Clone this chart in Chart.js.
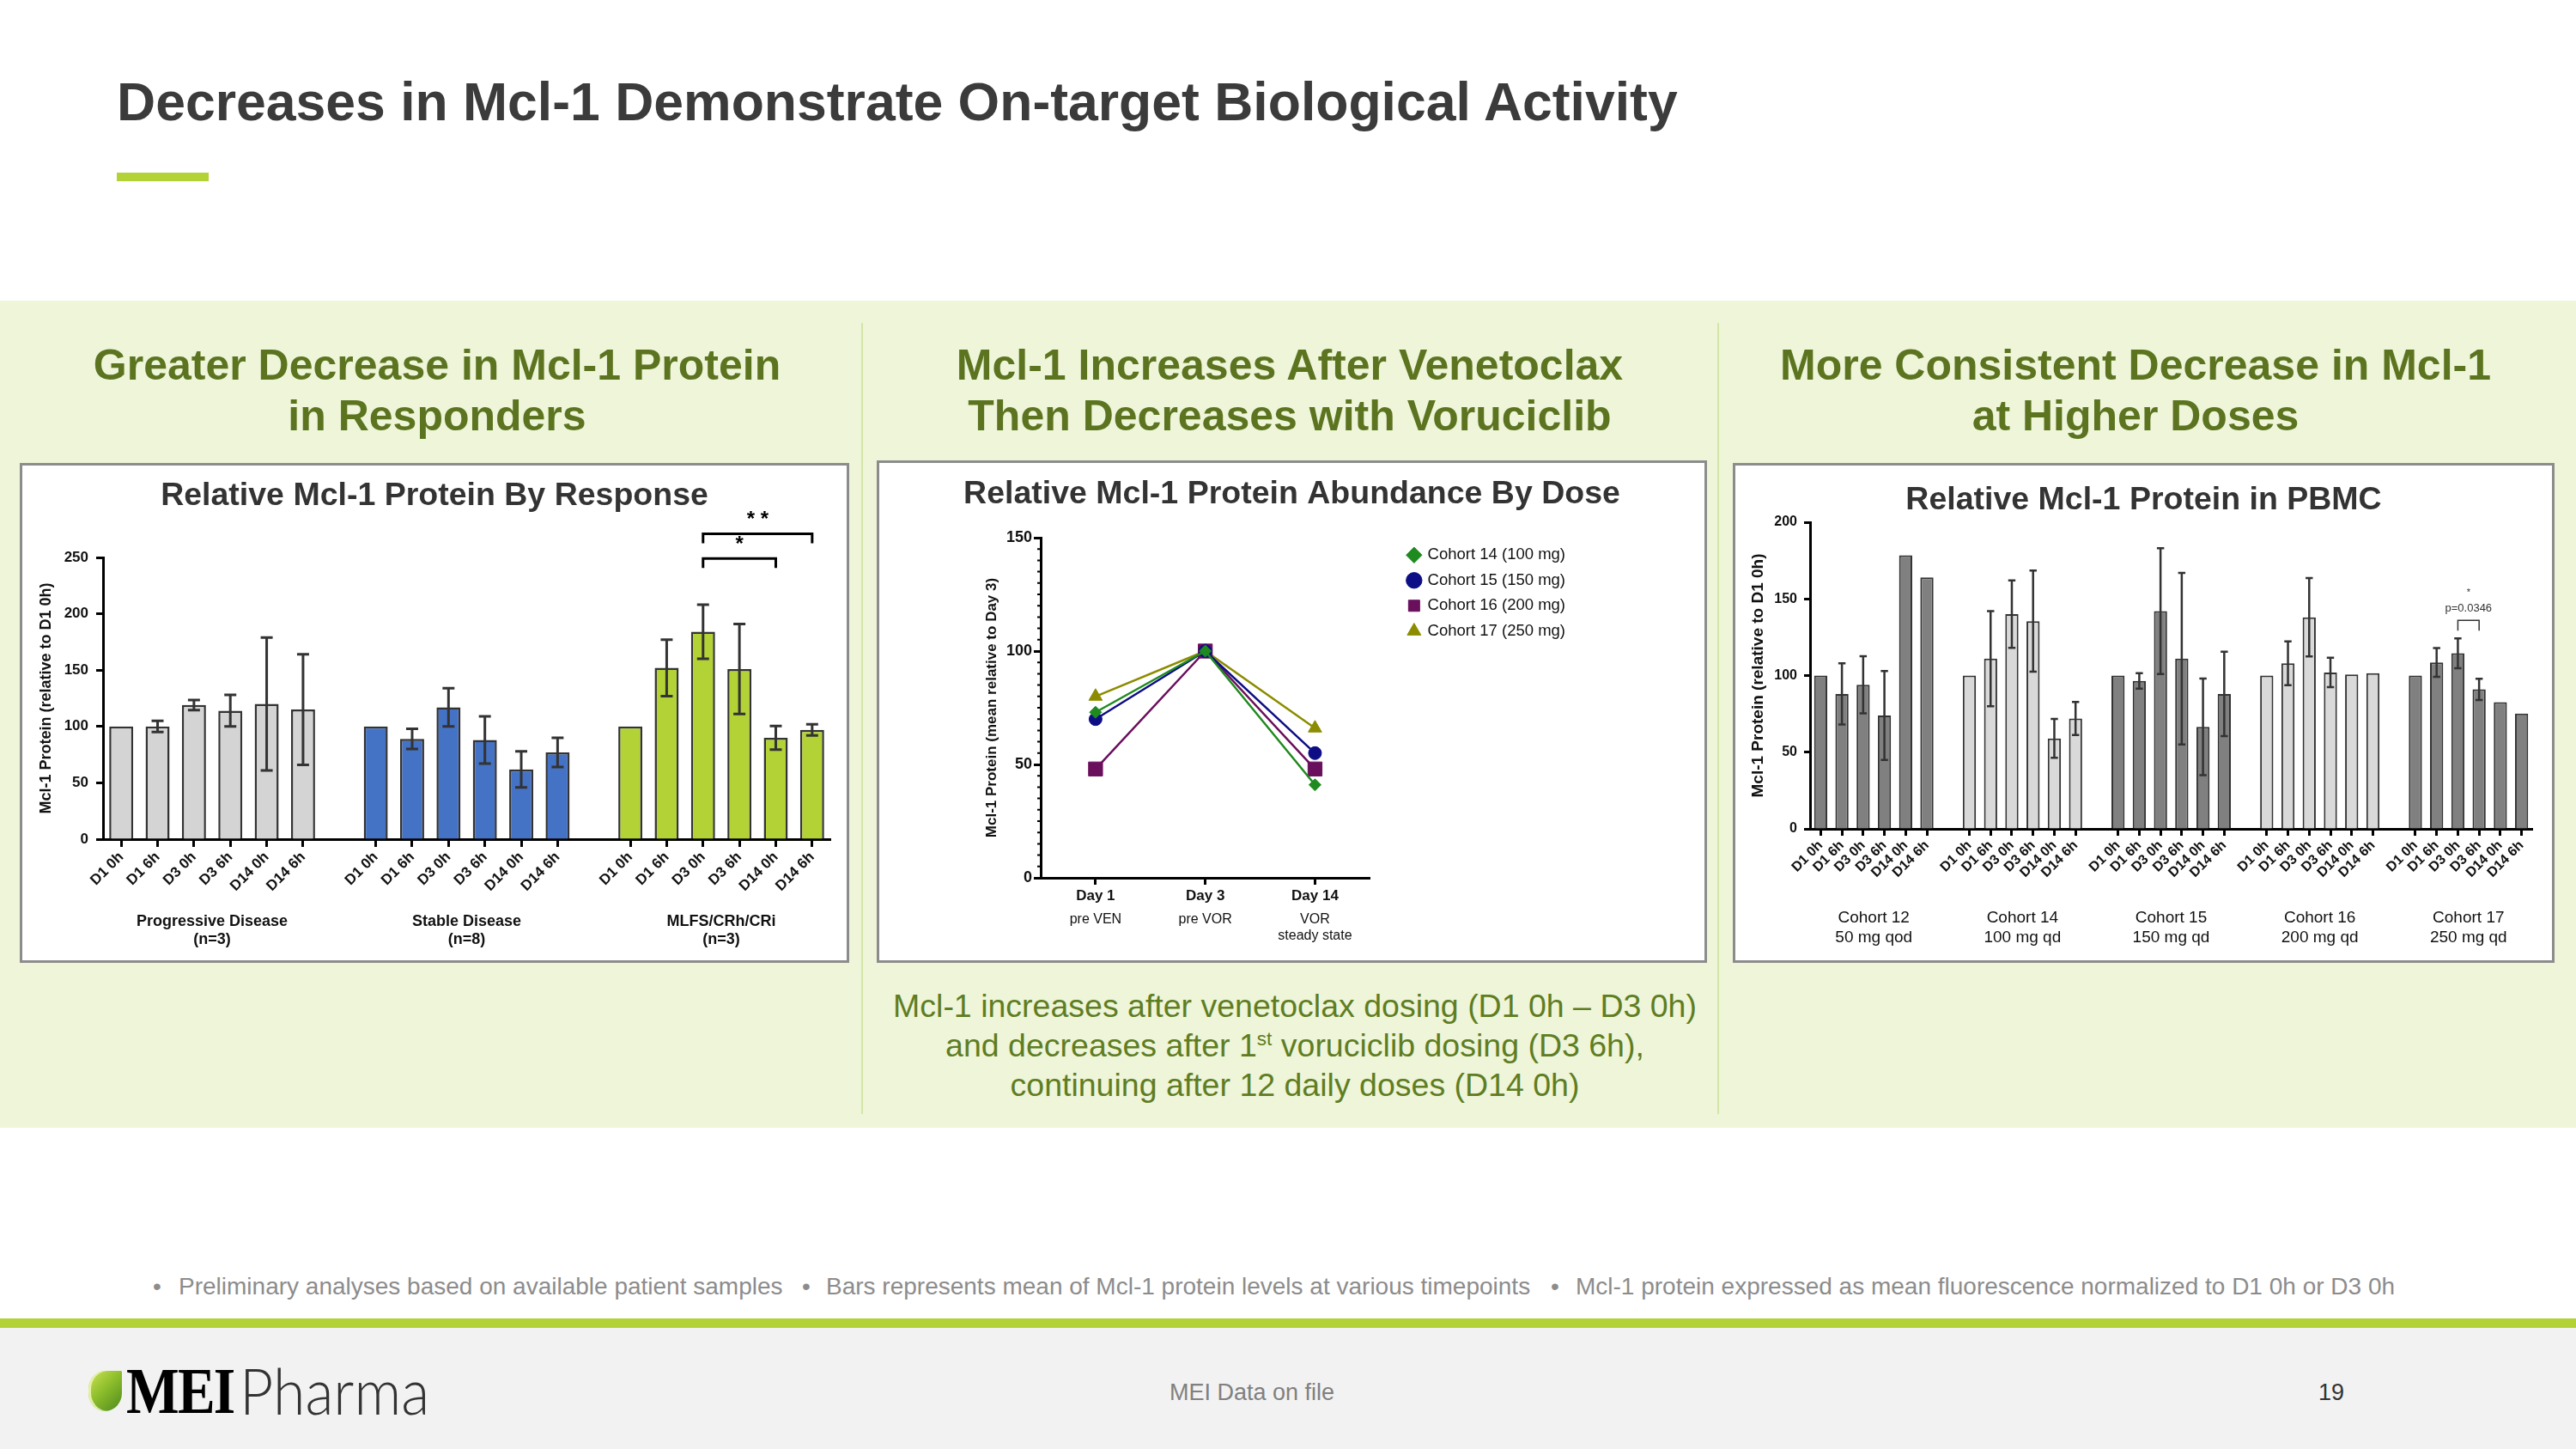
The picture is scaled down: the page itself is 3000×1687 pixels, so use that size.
<!DOCTYPE html>
<html>
<head>
<meta charset="utf-8">
<script src="https://cdn.jsdelivr.net/npm/chart.js@4.4.1/dist/chart.umd.min.js"></script>
<style>
  body { margin: 0; background: #fff; }
  #slide { position: relative; width: 3000px; height: 1687px; overflow: hidden; background: #fff;
           font-family: Arial, "Liberation Sans", Helvetica, sans-serif; }
  .abs { position: absolute; white-space: nowrap; }
  #title { left: 136px; top: 87px; font-size: 62.5px; line-height: 62px; font-weight: bold; color: #3b3b3b; }
  #accent { left: 136px; top: 201px; width: 107px; height: 10px; background: #b2d235; }
  #panel { left: 0; top: 350px; width: 3000px; height: 963px; background: #eef5d9; }
  .divider { top: 376px; width: 2px; height: 921px; background: #d3e6a6; }
  .heading { width: 1000px; text-align: center; font-size: 50px; line-height: 59px; font-weight: bold; color: #5c7420; top: 396px; }
  .box { border: 3px solid #8c8c8c; background: #fff; box-sizing: border-box; }
  .box canvas { position: absolute; left: 0; top: 0; }
  #caption { left: 1008px; top: 1148px; width: 1000px; text-align: center; font-size: 37.5px; line-height: 46px; color: #5f7d22; }
  #caption sup { font-size: 60%; line-height: 0; }
  .note { top: 1478px; font-size: 28px; line-height: 40px; color: #8c8c8c; }
  #rule { left: 0; top: 1535px; width: 3000px; height: 11px; background: #b2d235; }
  #footer { left: 0; top: 1546px; width: 3000px; height: 141px; background: #f2f2f2; }
  #leaf { left: 103px; top: 1596px; width: 39px; height: 47px; border-radius: 55% 4% 55% 55% / 50% 4% 50% 50%;
          background: linear-gradient(135deg, #cfe35a 0%, #8fbf2c 45%, #4d8a1e 100%); box-shadow: inset 3px 0 0 #e4f0a8; }
  #mei { left: 147px; top: 1581px; font-family: "Liberation Serif", "DejaVu Serif", serif; font-weight: bold; font-size: 76px; line-height: 76px;
         color: #000; transform: scaleX(0.86); transform-origin: left; letter-spacing: -2px; }
  #pharma { left: 279px; top: 1582px; font-family: "Lato Light", Lato, "Open Sans", sans-serif; font-weight: 300; font-size: 74px; line-height: 74px;
            color: #333; transform: scaleX(0.92); transform-origin: left; }
  #source { left: 1258px; width: 400px; text-align: center; top: 1603px; font-size: 27px; line-height: 36px; color: #808080; }
  #page { left: 2665px; width: 100px; text-align: center; top: 1603px; font-size: 27px; line-height: 36px; color: #333; }
</style>
</head>
<body>
<div id="slide">
  <div id="title" class="abs">Decreases in Mcl-1 Demonstrate On-target Biological Activity</div>
  <div id="accent" class="abs"></div>

  <div id="panel" class="abs"></div>
  <div class="abs divider" style="left:1003px"></div>
  <div class="abs divider" style="left:2000px"></div>

  <div class="abs heading" style="left:9px">Greater Decrease in Mcl-1 Protein<br>in Responders</div>
  <div class="abs heading" style="left:1002px">Mcl-1 Increases After Venetoclax<br>Then Decreases with Voruciclib</div>
  <div class="abs heading" style="left:1987px">More Consistent Decrease in Mcl-1<br>at Higher Doses</div>

  <div class="abs box" style="left:23px; top:539px; width:966px; height:582px;">
    <canvas id="responseChart" width="960" height="576"></canvas>
  </div>
  <div class="abs box" style="left:1021px; top:536px; width:967px; height:585px;">
    <canvas id="doseChart" width="961" height="579"></canvas>
  </div>
  <div class="abs box" style="left:2018px; top:539px; width:957px; height:582px;">
    <canvas id="pbmcChart" width="951" height="576"></canvas>
  </div>

  <div id="caption" class="abs">Mcl-1 increases after venetoclax dosing (D1 0h – D3 0h)<br>and decreases after 1<sup>st</sup> voruciclib dosing (D3 6h),<br>continuing after 12 daily doses (D14 0h)</div>

  <div class="abs note" style="left:178px">•</div>
  <div class="abs note" style="left:208px">Preliminary analyses based on available patient samples</div>
  <div class="abs note" style="left:934px">•</div>
  <div class="abs note" style="left:962px">Bars represents mean of Mcl-1 protein levels at various timepoints</div>
  <div class="abs note" style="left:1806px">•</div>
  <div class="abs note" style="left:1835px">Mcl-1 protein expressed as mean fluorescence normalized to D1 0h or D3 0h</div>

  <div id="rule" class="abs"></div>
  <div id="footer" class="abs"></div>
  <div id="leaf" class="abs"></div>
  <div id="mei" class="abs">MEI</div>
  <div id="pharma" class="abs">Pharma</div>
  <div id="source" class="abs">MEI Data on file</div>
  <div id="page" class="abs">19</div>
</div>

<script>
const FONT = 'Arial, "Liberation Sans", Helvetica, sans-serif';

// ---- Relative Mcl-1 Protein By Response ----
const timepoints = ['D1 0h', 'D1 6h', 'D3 0h', 'D3 6h', 'D14 0h', 'D14 6h'];
const responseGroups = ['Progressive Disease', 'Stable Disease', 'MLFS/CRh/CRi'];
const responseCounts = ['(n=3)', '(n=8)', '(n=3)'];
const progressiveMean = [100, 100, 119, 114, 120, 115];
const progressiveSem = [0, 5, 4.5, 14, 59, 49];
const stableMean = [100, 89, 117, 88, 62, 77];
const stableSem = [0, 9, 17, 21, 16, 13];
const responderMean = [100, 152, 184, 151, 90, 97];
const responderSem = [0, 25, 24, 40, 10.5, 5];
const responseColors = ['#d4d4d4', '#4472c4', '#b2d235'];
const responseBrackets = [
    { group: 2, from: 'D3 0h', to: 'D14 0h', level: 249, text: ['*'] },
    { group: 2, from: 'D3 0h', to: 'D14 6h', level: 271, text: ['* *'] }
];

// ---- Relative Mcl-1 Protein Abundance By Dose ----
const doseDays = ['Day 1', 'Day 3', 'Day 14'];
const doseDayNotes = [['pre VEN'], ['pre VOR'], ['VOR', 'steady state']];
const doseCohorts = ['Cohort 14 (100 mg)', 'Cohort 15 (150 mg)', 'Cohort 16 (200 mg)', 'Cohort 17 (250 mg)'];
const cohort14Dose = [73, 100, 41];
const cohort15Dose = [70, 100, 55];
const cohort16Dose = [48, 100, 48];
const cohort17Dose = [80, 100, 66];
const doseColors = ['#1f8a1f', '#0d0d85', '#6a0f5c', '#8c8c00'];
const doseMarkers = ['rectRot', 'circle', 'rect', 'triangle'];

// ---- Relative Mcl-1 Protein in PBMC ----
const pbmcCohorts = ['Cohort 12', 'Cohort 14', 'Cohort 15', 'Cohort 16', 'Cohort 17'];
const pbmcDoses = ['50 mg qod', '100 mg qd', '150 mg qd', '200 mg qd', '250 mg qd'];
const cohort12Mean = [100, 88, 94, 74, 178.5, 164];
const cohort12Sem = [0, 20, 18.6, 29, 0, 0];
const cohort14Mean = [100, 111, 140, 135.5, 59, 72];
const cohort14Sem = [0, 31, 22, 33, 12.7, 10.8];
const cohort15Mean = [100, 96.5, 142, 111, 66.5, 88];
const cohort15Sem = [0, 5, 41, 56, 31.5, 27.5];
const cohort16Mean = [100, 108, 138, 102, 100.7, 101.6];
const cohort16Sem = [0, 14.3, 25.6, 9.6, 0, 0];
const cohort17Mean = [100, 108.5, 114.5, 91, 82.6, 75.2];
const cohort17Sem = [0, 9.4, 9.7, 6.9, 0, 0];
const pbmcColors = ['#808080', '#d9d9d9', '#808080', '#d9d9d9', '#808080'];
const pbmcBrackets = [
    { group: 4, from: 'D3 0h', to: 'D3 6h', level: 136, text: ['*', 'p=0.0346'] }
];

// put groups side by side with one empty slot between them
function flatten(groups, gap) {
    var out = [];
    groups.forEach(function(g, i) {
        if (i > 0) out.push(gap);
        out.push.apply(out, g);
    });
    return out;
}

function slotOf(group, name) {
    return group * (timepoints.length + 1) + timepoints.indexOf(name);
}

// empty axis used only to reserve room on the right
function spacer(width, weight) {
    return {
        type: 'linear', position: 'right', display: true, weight: weight || 0,
        grid: { display: false }, border: { display: false }, ticks: { display: false },
        afterFit: function(s) { s.width = width; }
    };
}

const errorBarPlugin = {
    id: 'errorBars',
    afterDatasetsDraw(chart, args, opts) {
        const ctx = chart.ctx;
        const y = chart.scales.y;
        chart.data.datasets.forEach(function(ds, di) {
            if (!ds.errors) return;
            const meta = chart.getDatasetMeta(di);
            ctx.save();
            ctx.strokeStyle = opts.color;
            ctx.lineWidth = opts.width;
            meta.data.forEach(function(bar, i) {
                const v = ds.data[i], e = ds.errors[i];
                if (v == null || !e) return;
                const top = y.getPixelForValue(v + e);
                const bot = y.getPixelForValue(v - e);
                const half = bar.width * opts.cap / 2;
                ctx.beginPath();
                ctx.moveTo(bar.x, top); ctx.lineTo(bar.x, bot);
                ctx.moveTo(bar.x - half, top); ctx.lineTo(bar.x + half, top);
                ctx.moveTo(bar.x - half, bot); ctx.lineTo(bar.x + half, bot);
                ctx.stroke();
            });
            ctx.restore();
        });
    }
};

const groupLabelPlugin = {
    id: 'groupLabels',
    afterDraw(chart, args, opts) {
        const ctx = chart.ctx, x = chart.scales.x;
        ctx.save();
        ctx.font = opts.font;
        ctx.fillStyle = '#111';
        ctx.textAlign = 'center';
        ctx.textBaseline = 'middle';
        opts.lines.forEach(function(lines, gi) {
            const first = gi * (timepoints.length + 1);
            const cx = (x.getPixelForValue(first) + x.getPixelForValue(first + timepoints.length - 1)) / 2;
            lines.forEach(function(t, li) {
                ctx.fillText(t, cx, chart.chartArea.bottom + opts.offset + li * opts.lineHeight);
            });
        });
        ctx.restore();
    }
};

const bracketPlugin = {
    id: 'brackets',
    afterDraw(chart, args, opts) {
        const ctx = chart.ctx, x = chart.scales.x, y = chart.scales.y;
        ctx.save();
        ctx.strokeStyle = opts.color;
        ctx.fillStyle = opts.color;
        ctx.lineWidth = opts.width;
        ctx.textAlign = 'center';
        ctx.textBaseline = 'middle';
        opts.items.forEach(function(b) {
            const x1 = x.getPixelForValue(slotOf(b.group, b.from));
            const x2 = x.getPixelForValue(slotOf(b.group, b.to));
            const yl = y.getPixelForValue(b.level);
            ctx.beginPath();
            ctx.moveTo(x1, yl + opts.drop); ctx.lineTo(x1, yl);
            ctx.lineTo(x2, yl); ctx.lineTo(x2, yl + opts.drop);
            ctx.stroke();
            const n = b.text.length;
            b.text.forEach(function(t, i) {
                ctx.font = (i === n - 1) ? opts.font : opts.smallFont;
                ctx.fillText(t, (x1 + x2) / 2, yl - opts.gap - (n - 1 - i) * opts.lineGap);
            });
        });
        ctx.restore();
    }
};

const minorTickPlugin = {
    id: 'minorTicks',
    afterDraw(chart, args, opts) {
        const ctx = chart.ctx, y = chart.scales.y;
        ctx.save();
        ctx.strokeStyle = '#000';
        ctx.lineWidth = 2;
        ctx.beginPath();
        for (let v = y.min; v <= y.max; v += opts.step) {
            if (v % opts.major === 0) continue;
            const py = y.getPixelForValue(v);
            ctx.moveTo(y.right - opts.length, py);
            ctx.lineTo(y.right, py);
        }
        ctx.stroke();
        ctx.restore();
    }
};

const subLabelPlugin = {
    id: 'subLabels',
    afterDraw(chart, args, opts) {
        const ctx = chart.ctx, x = chart.scales.x;
        ctx.save();
        ctx.font = opts.font;
        ctx.fillStyle = '#111';
        ctx.textAlign = 'center';
        ctx.textBaseline = 'middle';
        opts.lines.forEach(function(lines, i) {
            const px = x.getPixelForValue(i);
            lines.forEach(function(t, li) {
                ctx.fillText(t, px, chart.chartArea.bottom + opts.offset + li * opts.lineHeight);
            });
        });
        ctx.restore();
    }
};

function barAxes(opts) {
    return {
        x: {
            offset: true,
            grid: {
                drawOnChartArea: false, offset: false,
                tickLength: opts.tickLength, tickWidth: 3,
                tickColor: function(c) { return c.tick && c.tick.label ? '#000' : 'rgba(0,0,0,0)'; }
            },
            border: { color: '#000', width: 3 },
            ticks: { autoSkip: false, minRotation: 45, maxRotation: 45, padding: 2, color: '#111',
                     font: { family: FONT, size: opts.xFont, weight: 'bold' } },
            afterFit: function(s) { s.height = opts.xHeight; }
        },
        y: {
            min: 0, max: opts.max,
            grid: { drawOnChartArea: false, tickLength: opts.yTick, tickWidth: 3, tickColor: '#000' },
            border: { color: '#000', width: 3 },
            ticks: { stepSize: 50, padding: opts.yPad, color: '#111', font: { family: FONT, size: opts.yFont, weight: 'bold' } },
            title: { display: true, text: 'Mcl-1 Protein (relative to D1 0h)', color: '#111',
                     font: { family: FONT, size: opts.titleFont, weight: 'bold' }, padding: { top: opts.titlePad, bottom: 0 } },
            afterFit: function(s) { s.width = opts.yWidth; }
        },
        pad: spacer(opts.rightGap)
    };
}

// chart 1
new Chart(document.getElementById('responseChart'), {
    type: 'bar',
    data: {
        labels: flatten(responseGroups.map(function() { return timepoints; }), ''),
        datasets: [{
            data: flatten([progressiveMean, stableMean, responderMean], null),
            errors: flatten([progressiveSem, stableSem, responderSem], 0),
            backgroundColor: flatten(responseColors.map(function(c) { return timepoints.map(function() { return c; }); }), 'rgba(0,0,0,0)'),
            borderColor: '#333',
            borderWidth: 2.5,
            barPercentage: 0.66,
            categoryPercentage: 1
        }]
    },
    options: {
        responsive: false,
        animation: false,
        plugins: {
            legend: { display: false },
            tooltip: { enabled: false },
            title: { display: true, text: 'Relative Mcl-1 Protein By Response', color: '#333',
                     font: { family: FONT, size: 37.5, weight: 'bold' }, padding: { top: 13, bottom: 49 } },
            errorBars: { color: '#333', width: 3, cap: 0.5 },
            groupLabels: { lines: responseGroups.map(function(g, i) { return [g, responseCounts[i]]; }),
                           font: 'bold 18px ' + FONT, offset: 96, lineHeight: 21 },
            brackets: { items: responseBrackets, color: '#000', width: 3, drop: 11, gap: 16, lineGap: 20,
                        font: 'bold 24px ' + FONT, smallFont: 'bold 24px ' + FONT }
        },
        scales: barAxes({ tickLength: 9, xFont: 17, xHeight: 141, max: 250, yTick: 8, yPad: 9, yFont: 17,
                          titleFont: 18, titlePad: 17, yWidth: 94, rightGap: 19 })
    },
    plugins: [errorBarPlugin, groupLabelPlugin, bracketPlugin]
});

// chart 2
const doseSeries = [cohort14Dose, cohort15Dose, cohort16Dose, cohort17Dose];
const doseRadius = [7, 7.5, 11.5, 9];
new Chart(document.getElementById('doseChart'), {
    type: 'line',
    data: {
        labels: doseDays,
        datasets: doseSeries.map(function(s, i) {
            return {
                label: doseCohorts[i],
                data: s,
                borderColor: doseColors[i],
                backgroundColor: doseColors[i],
                pointBackgroundColor: doseColors[i],
                pointBorderColor: doseColors[i],
                pointStyle: doseMarkers[i],
                pointRadius: doseRadius[i],
                pointBorderWidth: 1,
                borderWidth: 2.5,
                tension: 0
            };
        })
    },
    options: {
        responsive: false,
        animation: false,
        plugins: {
            tooltip: { enabled: false },
            title: { display: true, text: 'Relative Mcl-1 Protein Abundance By Dose', color: '#333',
                     font: { family: FONT, size: 37.5, weight: 'bold' }, padding: { top: 14, bottom: 28 } },
            legend: {
                position: 'right', align: 'start', fullSize: false, maxWidth: 240,
                labels: { usePointStyle: true, boxWidth: 13, boxHeight: 13, padding: 11, color: '#111',
                          font: { family: FONT, size: 18.5 } }
            },
            minorTicks: { step: 5, major: 50, length: 4 },
            subLabels: { lines: doseDayNotes, font: '16px ' + FONT, offset: 49, lineHeight: 19 }
        },
        scales: {
            x: {
                offset: true,
                grid: { drawOnChartArea: false, offset: false, tickLength: 8, tickWidth: 3, tickColor: '#000' },
                border: { color: '#000', width: 3 },
                ticks: { maxRotation: 0, padding: 3, color: '#111', font: { family: FONT, size: 17, weight: 'bold' } },
                afterFit: function(s) { s.height = 96; }
            },
            y: {
                min: 0, max: 150,
                grid: { drawOnChartArea: false, tickLength: 8, tickWidth: 3, tickColor: '#000' },
                border: { color: '#000', width: 3 },
                ticks: { stepSize: 50, padding: 2, color: '#111', font: { family: FONT, size: 18, weight: 'bold' } },
                title: { display: true, text: 'Mcl-1 Protein (mean relative to Day 3)', color: '#111',
                         font: { family: FONT, size: 17, weight: 'bold' }, padding: { top: 121, bottom: 0 } },
                afterFit: function(s) { s.width = 188; }
            },
            gap: spacer(34),
            edge: spacer(152, 2000)
        }
    },
    plugins: [minorTickPlugin, subLabelPlugin]
});

// chart 3
new Chart(document.getElementById('pbmcChart'), {
    type: 'bar',
    data: {
        labels: flatten(pbmcCohorts.map(function() { return timepoints; }), ''),
        datasets: [{
            data: flatten([cohort12Mean, cohort14Mean, cohort15Mean, cohort16Mean, cohort17Mean], null),
            errors: flatten([cohort12Sem, cohort14Sem, cohort15Sem, cohort16Sem, cohort17Sem], 0),
            backgroundColor: flatten(pbmcColors.map(function(c) { return timepoints.map(function() { return c; }); }), 'rgba(0,0,0,0)'),
            borderColor: '#333',
            borderWidth: 2,
            barPercentage: 0.62,
            categoryPercentage: 1
        }]
    },
    options: {
        responsive: false,
        animation: false,
        plugins: {
            legend: { display: false },
            tooltip: { enabled: false },
            title: { display: true, text: 'Relative Mcl-1 Protein in PBMC', color: '#333',
                     font: { family: FONT, size: 37.5, weight: 'bold' }, padding: { top: 18, bottom: 3 } },
            errorBars: { color: '#333', width: 2.5, cap: 0.55 },
            groupLabels: { lines: pbmcCohorts.map(function(g, i) { return [g, pbmcDoses[i]]; }),
                           font: '19px ' + FONT, offset: 104, lineHeight: 23 },
            brackets: { items: pbmcBrackets, color: '#333', width: 1.5, drop: 12, gap: 14, lineGap: 18,
                        font: '13px ' + FONT, smallFont: '11px ' + FONT }
        },
        scales: barAxes({ tickLength: 8, xFont: 16, xHeight: 153, max: 200, yTick: 7, yPad: 8, yFont: 16,
                          titleFont: 19, titlePad: 15, yWidth: 87, rightGap: 23 })
    },
    plugins: [errorBarPlugin, groupLabelPlugin, bracketPlugin]
});
</script>
</body>
</html>
